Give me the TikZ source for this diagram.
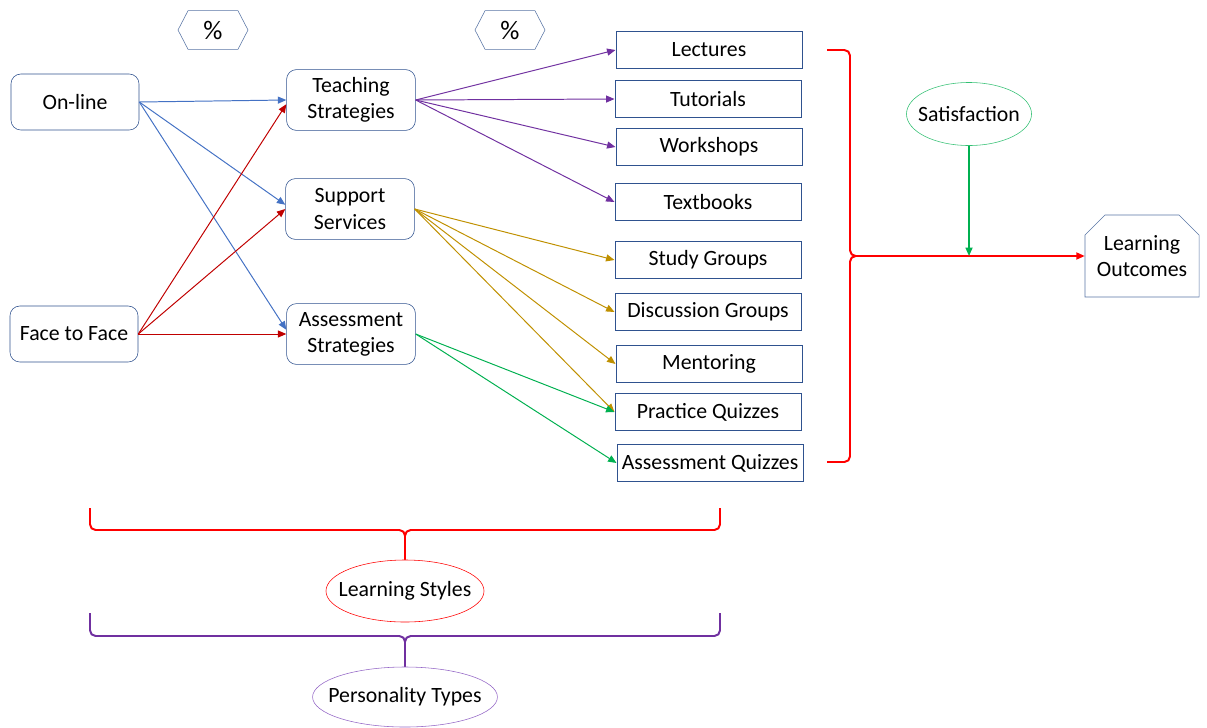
\documentclass[tikz,border=0pt]{standalone}
\usepackage{fontspec}
\setmainfont{Carlito}
\usepackage{xcolor}
\usepackage{tikz}
\usetikzlibrary{positioning, arrows.meta, shapes.geometric, shapes.misc, shapes.symbols}

\definecolor{frameblue}{HTML}{2F528F}
\definecolor{onlineblue}{HTML}{4472C4}
\definecolor{f2fred}{HTML}{C00000}
\definecolor{teachpurple}{HTML}{7030A0}
\definecolor{supportgold}{HTML}{BF9000}
\definecolor{assessgreen}{HTML}{00B050}
\definecolor{bracered}{HTML}{FF0000}
\definecolor{typepurple}{HTML}{9467C6}

\begin{document}
\begin{tikzpicture}[
    x=0.025cm, y=-0.025cm,
    font=\fontsize{15.5}{18.5}\selectfont,
    mode/.style={rectangle, rounded corners=7pt, draw=frameblue, minimum width=3.2cm, minimum height=1.4cm, align=center, inner sep=0pt},
    strategy/.style={rectangle, rounded corners=7pt, draw=frameblue, minimum width=3.22cm, minimum height=1.52cm, align=center, inner sep=0pt},
    activity/.style={rectangle, draw=frameblue, minimum width=4.66cm, minimum height=0.93cm, inner sep=0pt},
    percent/.style={signal, signal to=east and west, signal pointer angle=125, draw=frameblue!80, minimum width=1.75cm, minimum height=0.97cm, inner sep=0pt, font=\fontsize{19}{22}\selectfont},
    outcome/.style={chamfered rectangle, chamfered rectangle corners={north west, north east}, chamfered rectangle xsep=0.25cm, chamfered rectangle ysep=0.25cm, draw=frameblue!80, minimum width=2.85cm, minimum height=2.05cm, align=center, inner sep=0pt},
    factor/.style={ellipse, thin, minimum width=3.1cm, minimum height=1.55cm, inner xsep=-8pt, inner ysep=0pt},
    arrow/.style={-{Triangle[length=6pt, width=5pt]}, line width=0.7pt},
    bracket/.style={rounded corners=4pt, line width=1.4pt},
]
% percentage markers
\node[percent] (pct1) at (213,30) {\%};
\node[percent] (pct2) at (510,30) {\%};

% delivery modes
\node[mode] (online) at (75,102) {On-line};
\node[mode] (f2f) at (74,334) {Face to Face};

% strategies
\node[strategy] (teach) at (351,100) {Teaching\\Strategies};
\node[strategy] (support) at (350,209) {Support\\Services};
\node[strategy] (assess) at (351,334) {Assessment\\Strategies};

% activities
\node[activity] (lect) at (709,50) {Lectures};
\node[activity] (tut) at (708,99) {Tutorials};
\node[activity] (work) at (709,147) {Workshops};
\node[activity] (text) at (708,202) {Textbooks};
\node[activity] (study) at (708,260) {Study Groups};
\node[activity] (disc) at (708,312) {Discussion Groups};
\node[activity] (ment) at (709,364) {Mentoring};
\node[activity] (pquiz) at (708,412) {Practice Quizzes};
\node[activity] (aquiz) at (710,463) {Assessment Quizzes};

% outcomes side
\node[factor, draw=assessgreen!80, minimum width=3.125cm, minimum height=1.575cm] (satis) at (969,114) {Satisfaction};
\node[outcome] (outcomes) at (1142,256) {Learning\\Outcomes};
\coordinate (joint) at (864,256);

% styles and types
\node[factor, draw=bracered, minimum width=3.95cm] (styles) at (405,591) {Learning Styles};
\node[factor, draw=typepurple, minimum width=4.6cm, minimum height=1.5cm] (types) at (405,697) {Personality Types};

% on-line
\draw[arrow, onlineblue] (online.east) -- (teach.west);
\draw[arrow, onlineblue] (online.east) -- ([yshift=3pt]support.west);
\draw[arrow, onlineblue] (online.east) -- ([yshift=3pt]assess.west);
% face to face
\draw[arrow, f2fred] (f2f.east) -- ([yshift=-3pt]teach.west);
\draw[arrow, f2fred] (f2f.east) -- (support.west);
\draw[arrow, f2fred] (f2f.east) -- (assess.west);

% teaching
\draw[arrow, teachpurple] (teach.east) -- (lect.west);
\draw[arrow, teachpurple] (teach.east) -- (tut.west);
\draw[arrow, teachpurple] (teach.east) -- (work.west);
\draw[arrow, teachpurple] (teach.east) -- (text.west);
% support
\draw[arrow, supportgold] (support.east) -- (study.west);
\draw[arrow, supportgold] (support.east) -- (disc.west);
\draw[arrow, supportgold] (support.east) -- (ment.west);
\draw[arrow, supportgold] (support.east) -- (pquiz.west);
% assessment
\draw[arrow, assessgreen] (assess.east) -- (pquiz.west);
\draw[arrow, assessgreen] (assess.east) -- (aquiz.west);

% right brace
\draw[bracket, bracered] (827,50) -- (850,50) -- (850,256) -- (joint);
\draw[bracket, bracered] (827,462) -- (850,462) -- (850,256) -- (joint);
\draw[arrow, bracered, line width=1.2pt] (joint) -- (outcomes.west);
\draw[arrow, assessgreen, line width=1.1pt] (satis.south) -- (satis.south |- joint);

% bottom braces
\draw[bracket, bracered] (90,508) -- (90,530) -- (405,530) -- (styles.north);
\draw[bracket, bracered] (720,508) -- (720,530) -- (405,530) -- (styles.north);
\draw[bracket, teachpurple] (90,613) -- (90,636) -- (405,636) -- (types.north);
\draw[bracket, teachpurple] (720,613) -- (720,636) -- (405,636) -- (types.north);

\useasboundingbox (0,0) rectangle (1207,726);
\end{tikzpicture}
\end{document}
